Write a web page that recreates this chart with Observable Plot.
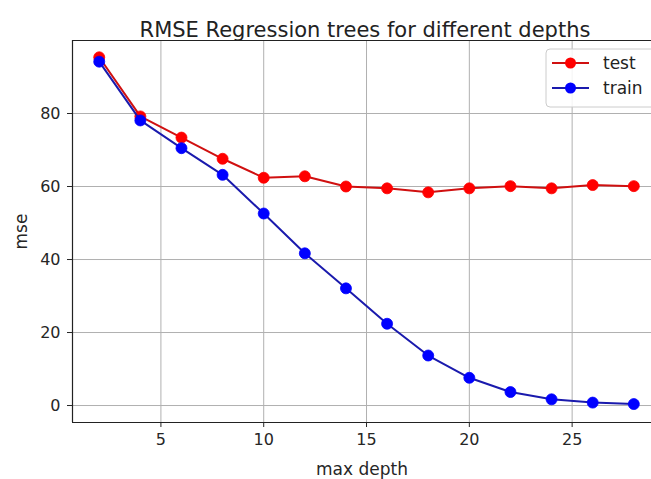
<!DOCTYPE html>
<html><head><meta charset="utf-8">
<script src="https://cdn.jsdelivr.net/npm/d3@7"></script>
<script src="https://cdn.jsdelivr.net/npm/@observablehq/plot@0.6"></script>
<style>
body{margin:0;background:#fff;}
#chart{position:relative;width:651px;height:479px;overflow:hidden;background:#fff}
</style>
</head><body><div id="chart"></div>
<script>
const depths = [2, 4, 6, 8, 10, 12, 14, 16, 18, 20, 22, 24, 26, 28];
const testRmse = [95.4, 79.2, 73.4, 67.6, 62.4, 62.8, 60.0, 59.5, 58.4, 59.5, 60.1, 59.5, 60.4, 60.1];
const trainRmse = [94.2, 78.1, 70.5, 63.2, 52.6, 41.7, 32.1, 22.4, 13.7, 7.6, 3.7, 1.7, 0.8, 0.4];
const seriesNames = ["test", "train"];
const lineColors = ["#d01010", "#1a1aad"];
const markerColors = ["#ff0000", "#0000ff"];
const xTicks = [5, 10, 15, 20, 25];
const yTicks = [0, 20, 40, 60, 80];
const titleText = "RMSE Regression trees for different depths";
const xLabel = "max depth";
const yLabel = "mse";

const seriesValues = [testRmse, trainRmse];
const rowsFor = i => depths.map((d, j) => ({series: seriesNames[i], depth: d, rmse: seriesValues[i][j]}));

const W = 651, H = 479;
const xDomain = [0.7, 28.86], yDomain = [-4.65, 100];
const font = "DejaVu Sans";

const seriesMarks = seriesNames.flatMap((s, i) => [
  Plot.line(rowsFor(i), {x: "depth", y: "rmse", stroke: lineColors[i], strokeWidth: 2}),
  Plot.dot(rowsFor(i), {x: "depth", y: "rmse", fill: markerColors[i], stroke: markerColors[i], strokeWidth: 0.8, r: 5.5})
]);

const plot = Plot.plot({
  width: W, height: H,
  marginLeft: 72, marginRight: 0, marginTop: 40, marginBottom: 57,
  style: {fontFamily: font, fontSize: "16px", color: "#262626", background: "#fff", overflow: "visible"},
  x: {domain: xDomain},
  y: {domain: yDomain},
  marks: [
    Plot.gridX(xTicks, {stroke: "#b0b0b0", strokeOpacity: 1, strokeWidth: 1}),
    Plot.gridY(yTicks, {stroke: "#b0b0b0", strokeOpacity: 1, strokeWidth: 1}),
    Plot.axisX(xTicks, {tickSize: 5, tickPadding: 6, fontSize: 16, label: null}),
    Plot.axisX({label: xLabel, labelAnchor: "center", labelArrow: "none", labelOffset: 52, ticks: [], fontSize: 17}),
    Plot.axisY(yTicks, {tickSize: 5, tickPadding: 7, fontSize: 16, label: null}),
    Plot.axisY({label: yLabel, labelAnchor: "center", labelArrow: "none", labelOffset: 58, ticks: [], fontSize: 17}),
    Plot.ruleX([xDomain[0]], {stroke: "#222", strokeWidth: 1.2}),
    Plot.ruleY([yDomain[0]], {stroke: "#222", strokeWidth: 1.2}),
    Plot.ruleY([yDomain[1]], {stroke: "#222", strokeWidth: 1.2}),
    ...seriesMarks,
    Plot.text([titleText], {text: d => d, frameAnchor: "top", dy: -18, dx: 3, fontSize: 21, fill: "#222"})
  ]
});
document.getElementById("chart").appendChild(plot);

// legend (upper right, inside axes)
const svg = d3.select(plot);
const lg = svg.append("g").attr("font-family", font).attr("font-size", 17).attr("text-anchor", "start");
const lx = W - 105, ly = 49;
lg.append("rect").attr("x", lx).attr("y", ly).attr("width", 130).attr("height", 58).attr("rx", 4)
  .attr("fill", "#fff").attr("fill-opacity", 0.85).attr("stroke", "#cccccc");
seriesNames.forEach((s, i) => {
  const cy = ly + 14 + i * 25;
  lg.append("line").attr("x1", lx + 6).attr("x2", lx + 43).attr("y1", cy).attr("y2", cy)
    .attr("stroke", lineColors[i]).attr("stroke-width", 2);
  lg.append("circle").attr("cx", lx + 24.5).attr("cy", cy).attr("r", 5.5).attr("fill", markerColors[i]);
  lg.append("text").attr("x", lx + 57).attr("y", cy).attr("dy", "0.35em").attr("text-anchor", "start").attr("fill", "#222").text(s);
});
</script>
</body></html>
